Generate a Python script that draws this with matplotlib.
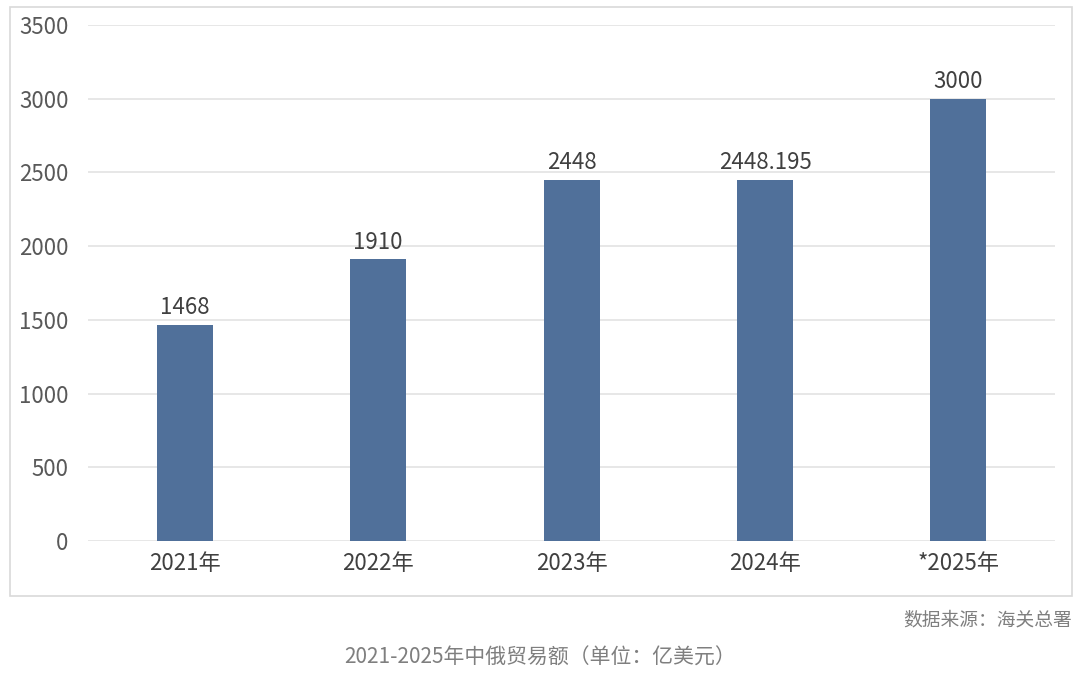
import matplotlib.pyplot as plt
from matplotlib.patches import Rectangle

plt.rcParams['font.family'] = ['Noto Sans CJK SC', 'DejaVu Sans']

# 数据
years = ['2021年', '2022年', '2023年', '2024年', '*2025年']
trade = [1468, 1910, 2448, 2448.195, 3000]
trade_labels = ['1468', '1910', '2448', '2448.195', '3000']
yticks = [0, 500, 1000, 1500, 2000, 2500, 3000, 3500]

BAR_COLOR = '#50709a'
GRID_COLOR = '#e3e3e3'

fig = plt.figure(figsize=(10.8, 6.77), dpi=100)
ax = fig.add_axes([0.0815, 0.2009, 0.8955, 0.7621])

# 外框
fig.patches.append(Rectangle((0.0093, 0.1196), 0.9833, 0.8701, transform=fig.transFigure,
                             fill=False, edgecolor='#d9d9d9', linewidth=1.2))

x = range(len(years))
ax.bar(x, trade, width=0.29, color=BAR_COLOR, zorder=3)

for i, (v, lab) in enumerate(zip(trade, trade_labels)):
    ax.text(i, v + 40, lab, ha='center', va='bottom', fontsize=16, color='#404040')

ax.set_xlim(-0.5, len(years) - 0.5)
ax.set_ylim(0, 3500)
ax.set_yticks(yticks)
ax.set_xticks(list(x))
ax.set_xticklabels(years)
ax.tick_params(axis='y', length=0, labelsize=16, labelcolor='#595959', pad=14)
ax.tick_params(axis='x', length=0, labelsize=16, labelcolor='#404040', pad=8)
ax.grid(axis='y', color=GRID_COLOR, linewidth=1.2, zorder=0)
for s in ax.spines.values():
    s.set_visible(False)

fig.text(0.993, 0.084, '数据来源：海关总署', ha='right', va='center', fontsize=13.5, color='#7f7f7f')
fig.text(0.5, 0.028, '2021-2025年中俄贸易额（单位：亿美元）', ha='center', va='center',
         fontsize=15, color='#7f7f7f')

fig.savefig('out.png', dpi=100, facecolor='white')
